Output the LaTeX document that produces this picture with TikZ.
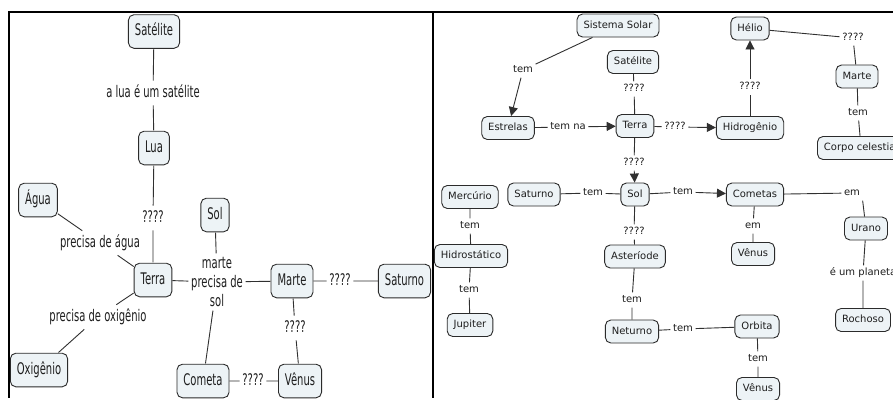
\documentclass[tikz,border=0pt]{standalone}
\usepackage{fontspec}
\setmainfont{DejaVu Sans}
\usetikzlibrary{arrows.meta}
\definecolor{boxfill}{HTML}{EDF3F6}
\definecolor{boxline}{HTML}{2B2B2B}
\definecolor{linkline}{HTML}{303030}
\definecolor{inktext}{HTML}{1E1E1E}

\begin{document}
\begin{tikzpicture}[x=1pt,y=-1pt,
  every node/.style={font=\fontsize{10pt}{12pt}\selectfont, text=inktext},
  concept/.style={draw=boxline, fill=boxfill, rounded corners=5.5pt, line width=0.9pt,
    inner xsep=6.5pt, inner ysep=6.5pt, text height=7.5pt, text depth=2.5pt},
  linkbase/.style={inner xsep=2.5pt, inner ysep=2.5pt},
  link/.style={linkbase, text height=7.5pt, text depth=2.5pt},
  cL/.style={concept, yscale=1.6, inner ysep=5.5pt},
  lL/.style={link, yscale=1.6},
  conn/.style={draw=linkline, line width=0.9pt},
  arr/.style={conn, -{Triangle[length=9pt,width=9pt]}},
  frameline/.style={draw=black}]

\useasboundingbox (0,0) rectangle (893,399);
\fill[white] (0,0) rectangle (893,399);
\clip (0,0) rectangle (893,399);

% ---------- left map ----------
\node[cL] (satL) at (154,31.5) {Satélite};
\node[lL] (lblLua) at (153,93) {a lua é um satélite};
\node[cL] (luaL) at (154,148) {Lua};
\node[lL] (q1) at (153,218) {????};
\node[cL] (terraL) at (153,280) {Terra};
\node[cL] (aguaL) at (38,200) {Água};
\node[lL] (lblAgua) at (100,243) {precisa de água};
\node[lL] (lblOxi) at (98,317) {precisa de oxigênio};
\node[cL] (oxiL) at (39,370) {Oxigênio};
\node[cL] (solL) at (215,215) {Sol};
\node[linkbase, yscale=1.6, align=center, font=\fontsize{10pt}{11.6pt}\selectfont] (lblM) at (217,282) {marte\\precisa de\\sol};
\node[cL] (marteL) at (292,281) {Marte};
\node[lL] (q2) at (340,281) {????};
\node[cL] (saturnoL) at (404.5,281) {Saturno};
\node[lL] (q3) at (295,328) {????};
\node[cL] (venusL) at (300,381) {Vênus};
\node[cL] (cometaL) at (203,381) {Cometa};
\node[lL] (q4) at (253,381) {????};

\draw[conn] (satL) -- (lblLua) -- (luaL);
\draw[conn] (luaL) -- (q1) -- (terraL);
\draw[conn] (aguaL) -- (lblAgua) -- (terraL);
\draw[conn] (terraL) -- (lblOxi) -- (oxiL);
\draw[conn] (solL) -- (lblM);
\draw[conn] (terraL) -- (lblM) -- (marteL);
\draw[conn] (lblM) -- (cometaL);
\draw[conn] (marteL) -- (q2) -- (saturnoL);
\draw[conn] (marteL) -- (q3) -- (venusL);
\draw[conn] (cometaL) -- (q4) -- (venusL);

% ---------- right map ----------
\node[concept] (sisS) at (618,25.5) {Sistema Solar};
\node[link] (temA) at (523,70) {tem};
\node[concept] (estrelas) at (508,128) {Estrelas};
\node[link] (temna) at (568,127) {tem na};
\node[concept] (terraR) at (635,126) {Terra};
\node[concept] (satR) at (633,62) {Satélite};
\node[link] (qA) at (634,89) {????};
\node[link] (qB) at (675,127) {????};
\node[concept] (hidro) at (750,128) {Hidrogênio};
\node[link] (qC) at (750,87) {????};
\node[concept] (helio) at (750,28.5) {Hélio};
\node[link] (qD) at (853,38) {????};
\node[concept] (marteR) at (857,76.5) {Marte};
\node[link] (temB) at (858,113) {tem};
\node[concept, anchor=west] (corpo) at (817,148) {Corpo celestial};
\node[link] (qE) at (634,163) {????};
\node[concept] (solR) at (635,194.5) {Sol};
\node[concept] (saturnoR) at (534,194.5) {Saturno};
\node[link] (temC) at (593,193) {tem};
\node[link] (temD) at (683,192) {tem};
\node[concept] (cometas) at (755,194.5) {Cometas};
\node[link] (emA) at (852,193) {em};
\node[concept] (urano) at (866,228.5) {Urano};
\node[link] (planeta) at (863,273) {é um planeta};
\node[concept] (rochoso) at (863,320) {Rochoso};
\node[link] (emB) at (753,226) {em};
\node[concept] (venusA) at (753,254) {Vênus};
\node[link] (qF) at (634,232) {????};
\node[concept] (asteroide) at (635,256.5) {Asteríode};
\node[link] (temE) at (632,300) {tem};
\node[concept] (neturno) at (632,331.5) {Neturno};
\node[link] (temF) at (683,329) {tem};
\node[concept] (orbita) at (757,326.5) {Orbita};
\node[link] (temG) at (758,359) {tem};
\node[concept] (venusB) at (758,389) {Vênus};
\node[concept] (mercurio) at (470,197) {Mercúrio};
\node[link] (temH) at (470,226) {tem};
\node[concept] (hidrost) at (471,256) {Hidrostático};
\node[link] (temI) at (469,290) {tem};
\node[concept] (jupiter) at (470,325) {Jupiter};

\draw[conn] (sisS) -- (temA);
\draw[arr] (temA) -- (estrelas);
\draw[conn] (estrelas) -- (temna);
\draw[arr] (temna) -- (terraR);
\draw[conn] (satR) -- (qA) -- (terraR);
\draw[conn] (terraR) -- (qB);
\draw[arr] (qB) -- (hidro);
\draw[conn] (hidro) -- (qC);
\draw[arr] (qC) -- (helio);
\draw[conn] (helio) -- (qD) -- (marteR);
\draw[conn] (marteR) -- (temB) -- (corpo);
\draw[conn] (terraR) -- (qE);
\draw[arr] (qE) -- (solR);
\draw[conn] (saturnoR) -- (temC) -- (solR);
\draw[conn] (solR) -- (temD);
\draw[arr] (temD) -- (cometas);
\draw[conn] (cometas) -- (emA);
\draw[conn] (emA.south east) -- (urano);
\draw[conn] (urano) -- (planeta) -- (rochoso);
\draw[conn] (cometas) -- (emB) -- (venusA);
\draw[conn] (solR) -- (qF) -- (asteroide);
\draw[conn] (asteroide) -- (temE) -- (neturno);
\draw[conn] (neturno) -- (temF) -- (orbita);
\draw[conn] (orbita) -- (temG) -- (venusB);
\draw[conn] (mercurio) -- (temH) -- (hidrost);
\draw[conn] (hidrost) -- (temI) -- (jupiter);

% ---------- panel frame ----------
\draw[frameline, line width=2.2pt] (8,12) -- (893,12);
\draw[frameline, line width=2pt] (9,11) -- (9,398);
\draw[frameline, line width=1.4pt] (433,12) -- (433,398);
\end{tikzpicture}
\end{document}
